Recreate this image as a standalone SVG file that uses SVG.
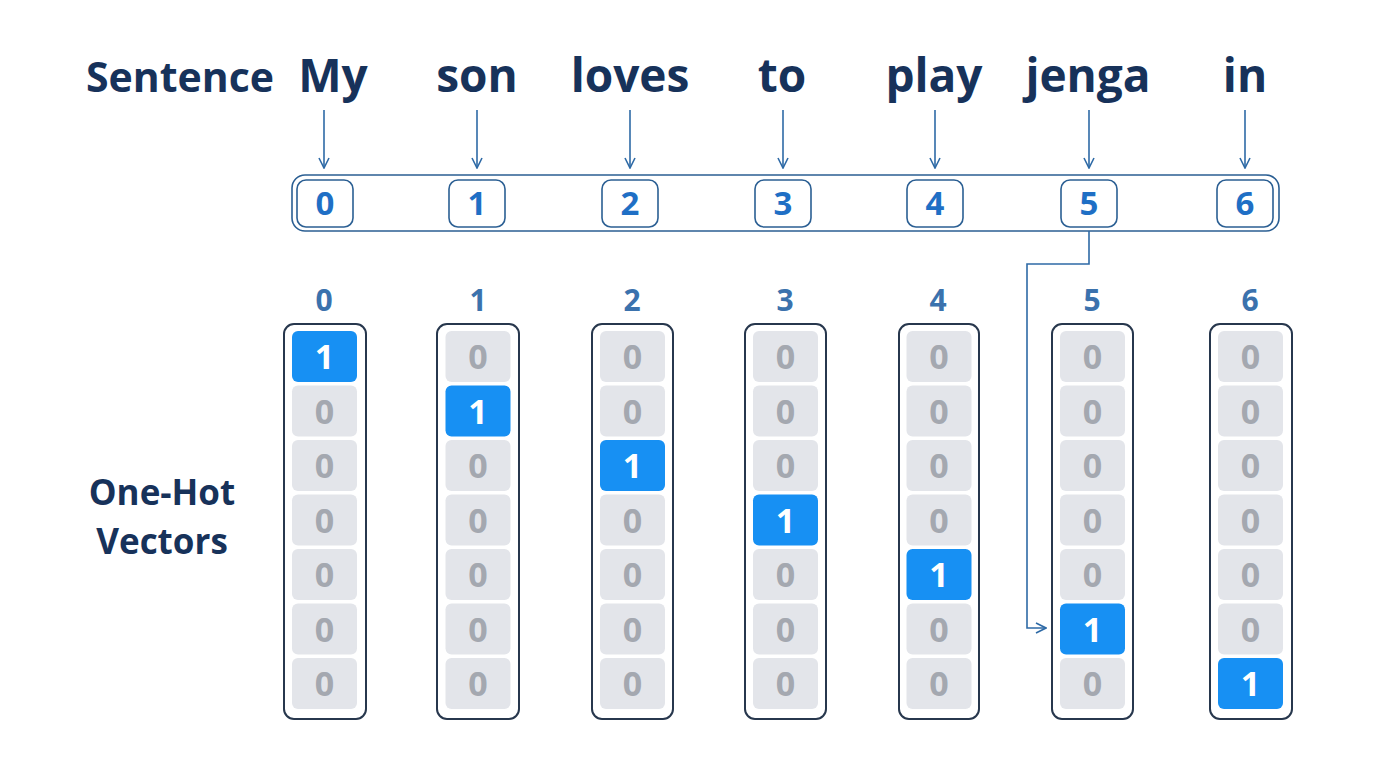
<svg xmlns="http://www.w3.org/2000/svg" width="1376" height="768" viewBox="0 0 1376 768">
<style>
text{font-family:"Open Sans","Liberation Sans",sans-serif;font-weight:700;text-anchor:middle}
.lbl{fill:#17325a;font-size:41px}
.lbl2{fill:#17325a;font-size:35px}
.word{fill:#17325a;font-size:46px}
.idx{fill:none;stroke:#2b5f93;stroke-width:1.6}
.idxt{fill:#1f6fc5;font-size:33px}
.coln{fill:#3b72ad;font-size:30px}
.col{fill:#fff;stroke:#27374d;stroke-width:2}
.z{fill:#e3e5ea}
.zt{fill:#a4a8b0;font-size:34px}
.o{fill:#1790f3}
.ot{fill:#fff;font-size:34px}
.conn{fill:none;stroke:#2e6aa6;stroke-width:1.6}
</style>
<defs>
<marker id="ah" viewBox="0 0 12 12" refX="11" refY="6" markerWidth="12" markerHeight="12" markerUnits="userSpaceOnUse" orient="auto">
<path d="M1,1 L11,6 L1,11" fill="none" stroke="#2e6aa6" stroke-width="1.6"/>
</marker>
</defs>
<rect width="1376" height="768" fill="#fff"/>
<g id="labels">
<text class="lbl" x="180" y="92">Sentence</text>
<text class="lbl2" x="162" y="505">One-Hot</text>
<text class="lbl2" x="162" y="554">Vectors</text>
</g>
<g id="words">
<text class="word" x="333" y="92">My</text>
<text class="word" x="477" y="92">son</text>
<text class="word" x="630" y="92">loves</text>
<text class="word" x="782" y="92">to</text>
<text class="word" x="934" y="92">play</text>
<text class="word" x="1088" y="92">jenga</text>
<text class="word" x="1245" y="92">in</text>
</g>
<g id="index-bar">
<rect x="292" y="175" width="987" height="56" rx="13" class="idx"/>
<rect x="297" y="180" width="56" height="47" rx="9" class="idx"/><text class="idxt" x="325" y="215">0</text>
<rect x="449" y="180" width="56" height="47" rx="9" class="idx"/><text class="idxt" x="477" y="215">1</text>
<rect x="602" y="180" width="56" height="47" rx="9" class="idx"/><text class="idxt" x="630" y="215">2</text>
<rect x="755" y="180" width="56" height="47" rx="9" class="idx"/><text class="idxt" x="783" y="215">3</text>
<rect x="907" y="180" width="56" height="47" rx="9" class="idx"/><text class="idxt" x="935" y="215">4</text>
<rect x="1061" y="180" width="56" height="47" rx="9" class="idx"/><text class="idxt" x="1089" y="215">5</text>
<rect x="1217" y="180" width="56" height="47" rx="9" class="idx"/><text class="idxt" x="1245" y="215">6</text>
</g>
<g id="connectors">
<line class="conn" x1="324" y1="110" x2="324" y2="168" marker-end="url(#ah)"/>
<line class="conn" x1="477" y1="110" x2="477" y2="168" marker-end="url(#ah)"/>
<line class="conn" x1="630" y1="110" x2="630" y2="168" marker-end="url(#ah)"/>
<line class="conn" x1="783" y1="110" x2="783" y2="168" marker-end="url(#ah)"/>
<line class="conn" x1="935" y1="110" x2="935" y2="168" marker-end="url(#ah)"/>
<line class="conn" x1="1089" y1="110" x2="1089" y2="168" marker-end="url(#ah)"/>
<line class="conn" x1="1245" y1="110" x2="1245" y2="168" marker-end="url(#ah)"/>
<path class="conn" d="M1089,231 V264 H1027 V628 H1046" marker-end="url(#ah)"/>
</g>
<g id="col0">
<text class="coln" x="324" y="311">0</text>
<rect class="col" x="284" y="324" width="82" height="395" rx="10"/>
<rect class="o" x="292" y="331" width="65" height="51" rx="6"/><text class="ot" x="324.5" y="369">1</text>
<rect class="z" x="292" y="385.5" width="65" height="51" rx="6"/><text class="zt" x="324.5" y="423.5">0</text>
<rect class="z" x="292" y="440" width="65" height="51" rx="6"/><text class="zt" x="324.5" y="478">0</text>
<rect class="z" x="292" y="494.5" width="65" height="51" rx="6"/><text class="zt" x="324.5" y="532.5">0</text>
<rect class="z" x="292" y="549" width="65" height="51" rx="6"/><text class="zt" x="324.5" y="587">0</text>
<rect class="z" x="292" y="603.5" width="65" height="51" rx="6"/><text class="zt" x="324.5" y="641.5">0</text>
<rect class="z" x="292" y="658" width="65" height="51" rx="6"/><text class="zt" x="324.5" y="696">0</text>
</g>
<g id="col1">
<text class="coln" x="478" y="311">1</text>
<rect class="col" x="437" y="324" width="82" height="395" rx="10"/>
<rect class="z" x="445.5" y="331" width="65" height="51" rx="6"/><text class="zt" x="478" y="369">0</text>
<rect class="o" x="445.5" y="385.5" width="65" height="51" rx="6"/><text class="ot" x="478" y="423.5">1</text>
<rect class="z" x="445.5" y="440" width="65" height="51" rx="6"/><text class="zt" x="478" y="478">0</text>
<rect class="z" x="445.5" y="494.5" width="65" height="51" rx="6"/><text class="zt" x="478" y="532.5">0</text>
<rect class="z" x="445.5" y="549" width="65" height="51" rx="6"/><text class="zt" x="478" y="587">0</text>
<rect class="z" x="445.5" y="603.5" width="65" height="51" rx="6"/><text class="zt" x="478" y="641.5">0</text>
<rect class="z" x="445.5" y="658" width="65" height="51" rx="6"/><text class="zt" x="478" y="696">0</text>
</g>
<g id="col2">
<text class="coln" x="632" y="311">2</text>
<rect class="col" x="592" y="324" width="81" height="395" rx="10"/>
<rect class="z" x="600" y="331" width="65" height="51" rx="6"/><text class="zt" x="632.5" y="369">0</text>
<rect class="z" x="600" y="385.5" width="65" height="51" rx="6"/><text class="zt" x="632.5" y="423.5">0</text>
<rect class="o" x="600" y="440" width="65" height="51" rx="6"/><text class="ot" x="632.5" y="478">1</text>
<rect class="z" x="600" y="494.5" width="65" height="51" rx="6"/><text class="zt" x="632.5" y="532.5">0</text>
<rect class="z" x="600" y="549" width="65" height="51" rx="6"/><text class="zt" x="632.5" y="587">0</text>
<rect class="z" x="600" y="603.5" width="65" height="51" rx="6"/><text class="zt" x="632.5" y="641.5">0</text>
<rect class="z" x="600" y="658" width="65" height="51" rx="6"/><text class="zt" x="632.5" y="696">0</text>
</g>
<g id="col3">
<text class="coln" x="785" y="311">3</text>
<rect class="col" x="745" y="324" width="81" height="395" rx="10"/>
<rect class="z" x="753" y="331" width="65" height="51" rx="6"/><text class="zt" x="785.5" y="369">0</text>
<rect class="z" x="753" y="385.5" width="65" height="51" rx="6"/><text class="zt" x="785.5" y="423.5">0</text>
<rect class="z" x="753" y="440" width="65" height="51" rx="6"/><text class="zt" x="785.5" y="478">0</text>
<rect class="o" x="753" y="494.5" width="65" height="51" rx="6"/><text class="ot" x="785.5" y="532.5">1</text>
<rect class="z" x="753" y="549" width="65" height="51" rx="6"/><text class="zt" x="785.5" y="587">0</text>
<rect class="z" x="753" y="603.5" width="65" height="51" rx="6"/><text class="zt" x="785.5" y="641.5">0</text>
<rect class="z" x="753" y="658" width="65" height="51" rx="6"/><text class="zt" x="785.5" y="696">0</text>
</g>
<g id="col4">
<text class="coln" x="938" y="311">4</text>
<rect class="col" x="899" y="324" width="80" height="395" rx="10"/>
<rect class="z" x="906.5" y="331" width="65" height="51" rx="6"/><text class="zt" x="939" y="369">0</text>
<rect class="z" x="906.5" y="385.5" width="65" height="51" rx="6"/><text class="zt" x="939" y="423.5">0</text>
<rect class="z" x="906.5" y="440" width="65" height="51" rx="6"/><text class="zt" x="939" y="478">0</text>
<rect class="z" x="906.5" y="494.5" width="65" height="51" rx="6"/><text class="zt" x="939" y="532.5">0</text>
<rect class="o" x="906.5" y="549" width="65" height="51" rx="6"/><text class="ot" x="939" y="587">1</text>
<rect class="z" x="906.5" y="603.5" width="65" height="51" rx="6"/><text class="zt" x="939" y="641.5">0</text>
<rect class="z" x="906.5" y="658" width="65" height="51" rx="6"/><text class="zt" x="939" y="696">0</text>
</g>
<g id="col5">
<text class="coln" x="1092" y="311">5</text>
<rect class="col" x="1052" y="324" width="81" height="395" rx="10"/>
<rect class="z" x="1060" y="331" width="65" height="51" rx="6"/><text class="zt" x="1092.5" y="369">0</text>
<rect class="z" x="1060" y="385.5" width="65" height="51" rx="6"/><text class="zt" x="1092.5" y="423.5">0</text>
<rect class="z" x="1060" y="440" width="65" height="51" rx="6"/><text class="zt" x="1092.5" y="478">0</text>
<rect class="z" x="1060" y="494.5" width="65" height="51" rx="6"/><text class="zt" x="1092.5" y="532.5">0</text>
<rect class="z" x="1060" y="549" width="65" height="51" rx="6"/><text class="zt" x="1092.5" y="587">0</text>
<rect class="o" x="1060" y="603.5" width="65" height="51" rx="6"/><text class="ot" x="1092.5" y="641.5">1</text>
<rect class="z" x="1060" y="658" width="65" height="51" rx="6"/><text class="zt" x="1092.5" y="696">0</text>
</g>
<g id="col6">
<text class="coln" x="1250" y="311">6</text>
<rect class="col" x="1210" y="324" width="82" height="395" rx="10"/>
<rect class="z" x="1218" y="331" width="65" height="51" rx="6"/><text class="zt" x="1250.5" y="369">0</text>
<rect class="z" x="1218" y="385.5" width="65" height="51" rx="6"/><text class="zt" x="1250.5" y="423.5">0</text>
<rect class="z" x="1218" y="440" width="65" height="51" rx="6"/><text class="zt" x="1250.5" y="478">0</text>
<rect class="z" x="1218" y="494.5" width="65" height="51" rx="6"/><text class="zt" x="1250.5" y="532.5">0</text>
<rect class="z" x="1218" y="549" width="65" height="51" rx="6"/><text class="zt" x="1250.5" y="587">0</text>
<rect class="z" x="1218" y="603.5" width="65" height="51" rx="6"/><text class="zt" x="1250.5" y="641.5">0</text>
<rect class="o" x="1218" y="658" width="65" height="51" rx="6"/><text class="ot" x="1250.5" y="696">1</text>
</g>
</svg>
